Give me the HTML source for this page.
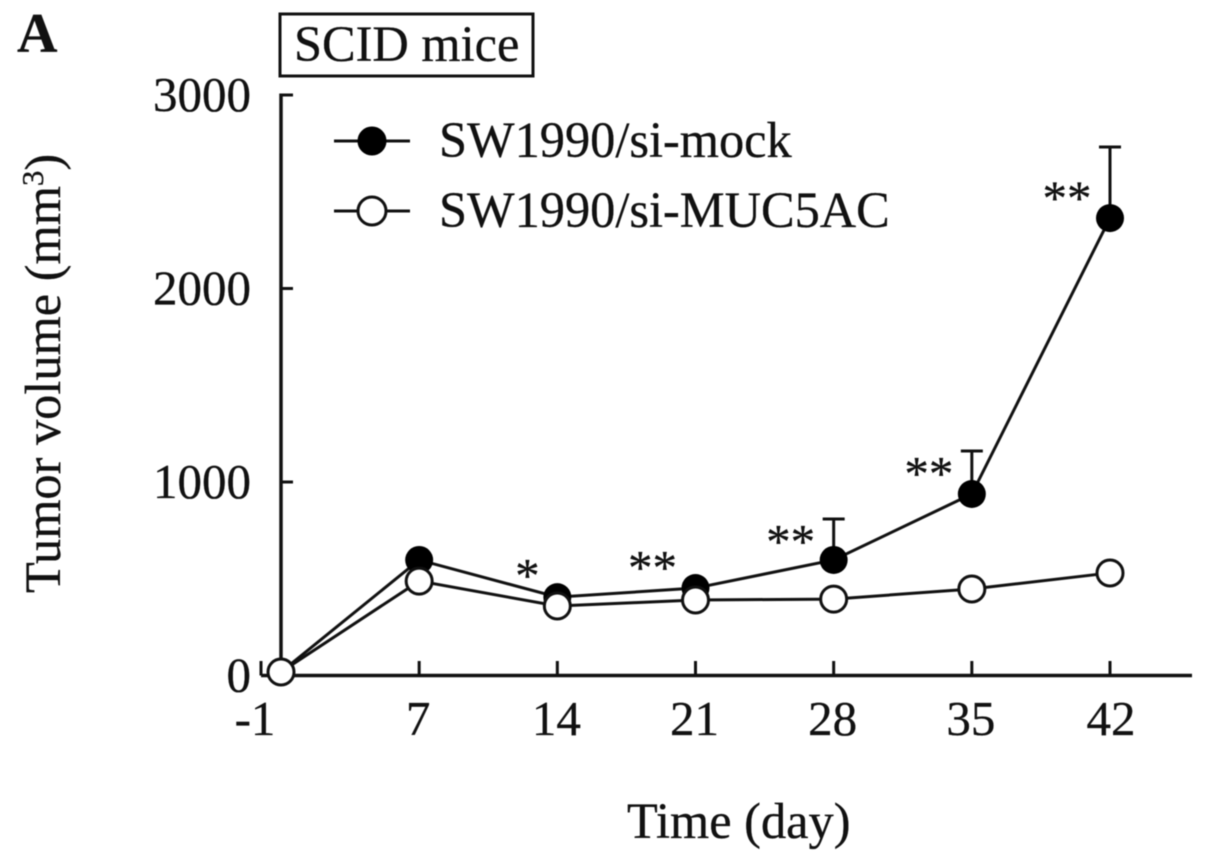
<!DOCTYPE html>
<html>
<head>
<meta charset="utf-8">
<title>Tumor volume chart</title>
<style>
html,body{margin:0;padding:0;background:#fff;}
svg{display:block;}
text{font-family:"Liberation Serif",serif;font-size:49px;fill:#111;stroke:#111;stroke-width:0.3px;}
text.wide{font-size:50.4px;}
</style>
</head>
<body>
<svg id="chart" xmlns="http://www.w3.org/2000/svg" width="1205" height="863" viewBox="0 0 1205 863" style="filter:blur(0.6px)">
  <rect x="0" y="0" width="1205" height="863" fill="#fff"/>
  <text x="17" y="52" style="font-weight:bold;font-size:56px">A</text>
  <rect x="280" y="14" width="253" height="62" fill="#fff" stroke="#111" stroke-width="3"/>
  <text class="wide" x="294" y="61">SCID mice</text>
  <text class="wide" transform="translate(60,593) rotate(-90)">Tumor volume (mm<tspan dy="-17" style="font-size:31px">3</tspan><tspan dy="17">)</tspan></text>
  <text class="wide" x="627" y="838">Time (day)</text>
  <g id="axes"></g>
  <g id="marks"></g>
  <g>
    <line x1="334" y1="141" x2="410" y2="141" stroke="#111" stroke-width="3"/>
    <circle cx="372" cy="141" r="14" fill="#000" stroke="#000" stroke-width="1"/>
    <text class="wide" x="439" y="157">SW1990/si-mock</text>
    <line x1="334" y1="211" x2="410" y2="211" stroke="#111" stroke-width="3"/>
    <circle cx="372" cy="211" r="14" fill="#fff" stroke="#111" stroke-width="3"/>
    <text class="wide" x="439" y="227">SW1990/si-MUC5AC</text>
  </g>
</svg>
<script>
var days = [0, 7, 14, 21, 28, 35, 42];
var xTickLabels = ["-1", "7", "14", "21", "28", "35", "42"];
var yTickValues = [0, 1000, 2000, 3000];
var mockValues = [18, 597, 405, 452, 597, 938, 2364];
var mockErrors = [0, 0, 0, 0, 212, 222, 367];
var mucValues = [18, 488, 359, 390, 395, 447, 530];
var significance = ["", "", "*", "**", "**", "**", "**"];
var significanceLevels = [0, 0, 431, 473, 607, 959, 2382];

var NS = "http://www.w3.org/2000/svg";
function xScale(d) { return 281 + d * (829 / 42); }
function yScale(v) { return 675.5 - v * 0.1935; }
function make(tag, parent, props) {
  var el = document.createElementNS(NS, tag);
  for (var k in props) { el.setAttribute(k, props[k]); }
  parent.appendChild(el);
  return el;
}
var axes = document.getElementById("axes");
var marks = document.getElementById("marks");
var ink = "#111";

var yAxis = make("line", axes, {x1: 281, y1: yScale(3000) - 1.5, x2: 281, y2: yScale(0), stroke: ink, "stroke-width": 3.5});


var xAxis = make("line", axes, {x1: 261, y1: yScale(0), x2: 1192, y2: yScale(0), stroke: ink, "stroke-width": 3.5});



yTickValues.forEach(function (v) {
  if (v > 0) {
    var t = make("line", axes, {x1: 281, y1: yScale(v), x2: 293, y2: yScale(v), stroke: ink, "stroke-width": 3});
    
    
  }
  var l = make("text", axes, {x: 251, y: yScale(v) + 16, "text-anchor": "end"});
  
  
  l.textContent = String(v);
});

days.forEach(function (d, i) {
  var tickX = i === 0 ? 261 : xScale(d);
  var t = make("line", axes, {x1: tickX, y1: 661, x2: tickX, y2: yScale(0), stroke: ink, "stroke-width": 3});
  
  
  var l = make("text", axes, {x: i === 0 ? 255 : xScale(d) - (i === 6 ? -1 : 1), y: 735, "text-anchor": "middle"});
  
  
  l.textContent = xTickLabels[i];
});

function seriesPoints(values) {
  return values.map(function (v, i) { return xScale(days[i]) + "," + yScale(v); }).join(" ");
}

mockValues.forEach(function (v, i) {
  if (mockErrors[i] > 0) {
    var x = xScale(days[i]);
    var top = yScale(v + mockErrors[i]);
    var stem = make("line", marks, {x1: x, y1: yScale(v), x2: x, y2: top, stroke: ink, "stroke-width": 3});
    
    
    var cap = make("line", marks, {x1: x - 11, y1: top, x2: x + 11, y2: top, stroke: ink, "stroke-width": 3});
    
    
  }
});

var mockLine = make("polyline", marks, {points: seriesPoints(mockValues), fill: "none", stroke: ink, "stroke-width": 3});


mockValues.forEach(function (v, i) {
  var c = make("circle", marks, {cx: xScale(days[i]), cy: yScale(v), r: 14, fill: "#000"});
  
  
});

var mucLine = make("polyline", marks, {points: seriesPoints(mucValues), fill: "none", stroke: ink, "stroke-width": 3});


mucValues.forEach(function (v, i) {
  var c = make("circle", marks, {cx: xScale(days[i]), cy: yScale(v), r: 13, fill: "#fff", stroke: ink, "stroke-width": 3});
  
  
});

significance.forEach(function (s, i) {
  if (!s) { return; }
  var a = make("text", marks, {
    x: xScale(days[i]) - (s.length === 1 ? 30 : 43),
    y: yScale(significanceLevels[i]),
    "text-anchor": "middle"
  });
  
  
  a.textContent = s;
});
</script>
</body>
</html>
